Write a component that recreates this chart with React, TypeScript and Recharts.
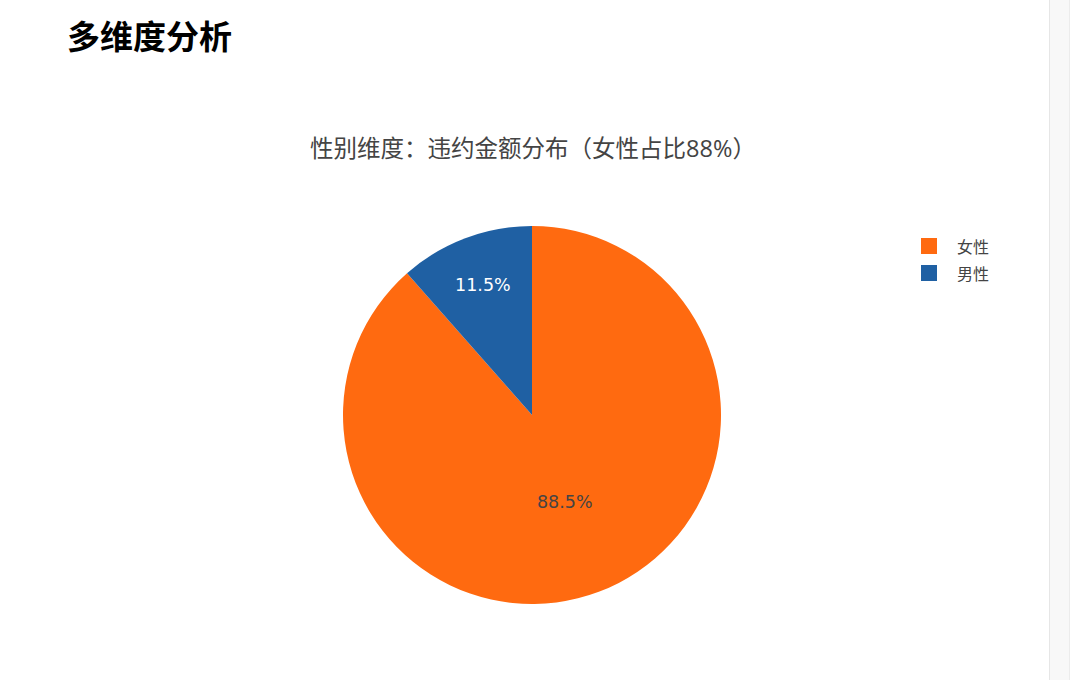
import React from "react";
import { PieChart, Pie, Cell, Legend } from "recharts";

const categories = ["女性", "男性"];
const shares = [88.5, 11.5];
const colors = ["#ff6a10", "#1f60a3"];
const labelColors = ["#444444", "#ffffff"];

const pageTitle = "多维度分析";
const chartTitle = "性别维度：违约金额分布（女性占比88%）";

const data = categories.map((name, i) => ({ name, value: shares[i] }));

const RAD = Math.PI / 180;

const renderLabel = (props: any) => {
  const { cx, cy, midAngle, outerRadius, percent, index } = props;
  const f = percent > 0.5 ? 0.49 : 0.735;
  const r = outerRadius * f;
  const x = cx + r * Math.cos(-midAngle * RAD);
  const y = cy + r * Math.sin(-midAngle * RAD);
  return (
    <text
      x={x}
      y={y}
      fill={labelColors[index]}
      textAnchor="middle"
      dominantBaseline="central"
      style={{ fontFamily: "'DejaVu Sans', sans-serif", fontSize: 17.5 }}
    >
      {(percent * 100).toFixed(1)}%
    </text>
  );
};

const LegendContent = (props: any) => {
  const { payload } = props;
  return (
    <div style={{ display: "flex", flexDirection: "column" }}>
      {(payload || []).map((entry: any, i: number) => (
        <div key={i} style={{ display: "flex", alignItems: "center", height: 27 }}>
          <div style={{ width: 16, height: 16, background: entry.color, marginRight: 20 }} />
          <span style={{ fontFamily: "'Noto Sans CJK SC', sans-serif", fontSize: 16, color: "#444" }}>
            {entry.value}
          </span>
        </div>
      ))}
    </div>
  );
};

export default function App() {
  return (
    <div
      style={{
        position: "absolute",
        left: 0,
        top: 0,
        width: 1080,
        height: 680,
        background: "#fff",
        overflow: "hidden",
      }}
    >
      <div
        style={{
          position: "absolute",
          left: 67,
          top: 12,
          fontFamily: "'Noto Sans CJK SC', sans-serif",
          fontWeight: 700,
          fontSize: 33,
          lineHeight: "46px",
          color: "#000",
        }}
      >
        {pageTitle}
      </div>
      <div
        style={{
          position: "absolute",
          left: 0,
          width: 1066,
          top: 131,
          textAlign: "center",
          fontFamily: "'Open Sans', 'Noto Sans CJK SC', sans-serif",
          fontSize: 23.5,
          lineHeight: "34px",
          color: "#444",
        }}
      >
        {chartTitle}
      </div>
      <div
        style={{
          position: "absolute",
          left: 1049,
          top: 0,
          width: 19,
          height: 680,
          background: "#f8f8f8",
          borderLeft: "1px solid #e6e6e6",
          borderRight: "1px solid #ececec",
        }}
      />
      <div style={{ position: "absolute", left: 0, top: 0 }}>
        <PieChart width={1040} height={680} margin={{ top: 0, right: 0, bottom: 0, left: 0 }}>
          <Pie
            data={data}
            dataKey="value"
            nameKey="name"
            cx={532}
            cy={415}
            outerRadius={189}
            startAngle={90}
            endAngle={-270}
            stroke="none"
            label={renderLabel}
            labelLine={false}
            isAnimationActive={false}
          >
            {data.map((d, i) => (
              <Cell key={d.name} fill={colors[i]} />
            ))}
          </Pie>
          <Legend
            layout="vertical"
            align="right"
            verticalAlign="top"
            content={<LegendContent />}
            wrapperStyle={{ left: 921, top: 232, width: 100 }}
          />
        </PieChart>
      </div>
    </div>
  );
}
